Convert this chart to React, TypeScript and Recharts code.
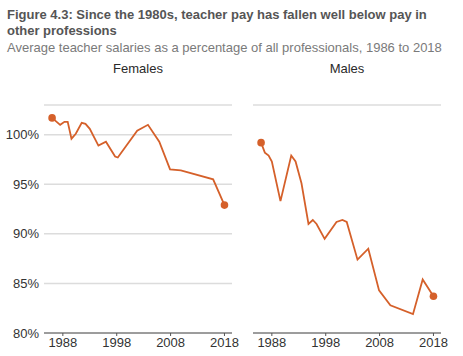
import { LineChart, Line, XAxis, YAxis, CartesianGrid } from "recharts";

// years (points are not evenly spaced)
const femaleYears = [
  1986, 1987.5, 1988.3, 1988.9, 1989.6, 1990.4, 1991.5, 1992.2, 1993, 1994.6,
  1996, 1997.7, 1998.2, 2001.8, 2003.8, 2005.9, 2007.9, 2009.9, 2015.9, 2018,
];
const femaleValues = [
  101.7, 101.0, 101.3, 101.3, 99.6, 100.1, 101.2, 101.1, 100.6, 98.9,
  99.3, 97.8, 97.7, 100.4, 101.0, 99.3, 96.5, 96.4, 95.5, 92.9,
];

const maleYears = [
  1986, 1986.7, 1987.4, 1988, 1989.6, 1991.6, 1992.4, 1993.5, 1994.8, 1995.6,
  1996.3, 1997.8, 2000, 2001.1, 2001.9, 2003.9, 2005.9, 2007.9, 2010, 2014.2,
  2016, 2018,
];
const maleValues = [
  99.2, 98.2, 97.9, 97.3, 93.3, 97.9, 97.3, 95.1, 91.0, 91.4,
  91.0, 89.5, 91.2, 91.4, 91.2, 87.4, 88.5, 84.3, 82.8, 81.9,
  85.4, 83.7,
];

const xTicks = [1988, 1998, 2008, 2018];
const yTicks = [80, 85, 90, 95, 100];

const LINE = "#d5602a";
const FONT = '"Liberation Sans", Arial, Helvetica, sans-serif';

function Panel({
  title,
  years,
  values,
  left,
  showLabels,
}: {
  title: string;
  years: number[];
  values: number[];
  left: number;
  showLabels: boolean;
}) {
  const data = years.map((y, i) => ({ year: y, value: values[i] }));
  const last = data.length - 1;
  return (
    <div style={{ position: "absolute", left, top: 60 }}>
      <div
        style={{
          position: "absolute",
          left: 44,
          width: 188,
          top: 1,
          textAlign: "center",
          fontSize: 13,
          color: "#2a2a2a",
        }}
      >
        {title}
      </div>
      <LineChart
        width={240}
        height={293}
        data={data}
        margin={{ top: 45, right: 8, bottom: 0, left: 0 }}
      >
        <CartesianGrid
          horizontal
          vertical={false}
          stroke="#dcdcdc"
          strokeWidth={1.5}
        />
        <XAxis
          type="number"
          dataKey="year"
          domain={[1984.5, 2019.4]}
          ticks={xTicks}
          allowDataOverflow
          height={20}
          stroke="#555"
          tickSize={3}
          tickMargin={2}
          tick={{ fontSize: 13, fill: "#333", fontFamily: FONT }}
        />
        <YAxis
          type="number"
          domain={[80, 103]}
          ticks={yTicks}
          allowDataOverflow
          width={44}
          axisLine={false}
          tickLine={false}
          tickSize={0}
          tickMargin={5}
          tickFormatter={(v: number) => `${v}%`}
          tick={
            showLabels
              ? { fontSize: 13, fill: "#333", fontFamily: FONT }
              : false
          }
        />
        <Line
          type="linear"
          dataKey="value"
          stroke={LINE}
          strokeWidth={1.8}
          isAnimationActive={false}
          dot={(p: any) =>
            p.index === 0 || p.index === last ? (
              <circle key={p.index} cx={p.cx} cy={p.cy} r={3.8} fill={LINE} />
            ) : (
              <g key={p.index} />
            )
          }
          activeDot={false}
        />
      </LineChart>
    </div>
  );
}

export default function App() {
  return (
    <div
      style={{
        position: "relative",
        width: 463,
        height: 356,
        background: "#fff",
        fontFamily: FONT,
        overflow: "hidden",
      }}
    >
      <style>{"body{margin:0}"}</style>
      <div
        style={{
          position: "absolute",
          left: 7,
          top: 7,
          fontSize: 13,
          lineHeight: "16px",
          fontWeight: "bold",
          color: "#555",
          whiteSpace: "nowrap",
        }}
      >
        Figure 4.3: Since the 1980s, teacher pay has fallen well below pay in
        <br />
        other professions
      </div>
      <div
        style={{
          position: "absolute",
          left: 7,
          top: 40,
          fontSize: 13,
          lineHeight: "16px",
          color: "#7a7a7a",
          whiteSpace: "nowrap",
        }}
      >
        Average teacher salaries as a percentage of all professionals, 1986 to
        2018
      </div>
      <Panel
        title="Females"
        years={femaleYears}
        values={femaleValues}
        left={0}
        showLabels
      />
      <Panel
        title="Males"
        years={maleYears}
        values={maleValues}
        left={209}
        showLabels={false}
      />
    </div>
  );
}
